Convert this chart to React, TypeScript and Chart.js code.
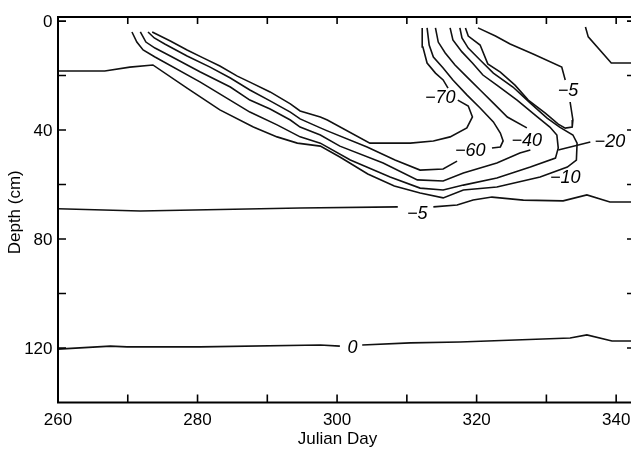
import React, { useEffect, useRef } from 'react';
import { Chart, registerables } from 'chart.js';

Chart.register(...registerables);

type Pt = [number, number];

const xTickLabels = [260, 280, 300, 320, 340];
const yTickLabels = [0, 40, 80, 120];
const xTitle = 'Julian Day';
const yTitle = 'Depth (cm)';

// contour -70 (two pieces, split at its label)
const c70a: Pt[] = [[273.5, 4.0], [276.1, 7.3], [278.5, 10.6], [280.8, 13.5], [283.2, 16.5], [285.7, 20.2], [287.5, 22.4], [290.4, 26.0], [293.3, 30.4], [294.7, 33.0], [297.6, 35.2], [298.6, 36.3], [304.7, 44.8], [310.5, 44.8], [313.8, 44.0], [316.2, 42.5], [318.6, 39.2], [319.4, 35.2], [318.8, 31.2], [317.3, 29.0]];
const c70b: Pt[] = [[315.9, 24.6], [315.2, 21.6], [314.1, 19.1], [312.9, 15.4], [312.3, 9.5], [312.2, 2.5]];

// contour -60
const c60a: Pt[] = [[272.9, 4.0], [273.8, 6.2], [275.3, 8.4], [278.5, 12.8], [281.8, 16.9], [284.7, 20.9], [287.5, 25.3], [290.4, 29.3], [293.3, 33.4], [294.7, 35.9], [297.6, 39.2], [298.6, 40.3], [304.3, 46.2], [308.3, 51.0], [311.9, 54.7], [315.2, 54.3], [317.2, 51.4]];
const c60b: Pt[] = [[322.2, 46.6], [323.4, 46.2], [323.8, 44.0], [323.4, 41.1], [322.4, 37.0], [320.5, 31.9], [318.6, 27.1], [316.6, 21.6], [315.2, 17.2], [313.8, 13.2], [313.2, 8.8], [312.9, 2.5]];

// contour -40
const c40a: Pt[] = [[271.8, 4.0], [272.6, 7.7], [273.9, 9.9], [276.1, 12.8], [280.4, 18.7], [284.7, 24.2], [287.5, 29.0], [290.4, 32.3], [293.3, 36.3], [294.7, 38.9], [297.6, 41.8], [300.4, 45.9], [306.6, 52.1], [311.5, 58.3], [315.2, 58.7], [318.1, 55.8], [322.9, 52.1], [326.2, 48.4], [327.7, 47.3]];
const c40b: Pt[] = [[327.2, 39.2], [324.4, 35.2], [322.4, 30.1], [320.5, 25.3], [318.6, 20.5], [316.9, 16.1], [315.5, 11.7], [314.5, 7.7], [314.1, 2.5]];

// contour -20 and its branch to the label
const c20: Pt[] = [[270.6, 4.0], [271.3, 7.7], [272.2, 10.6], [273.9, 13.2], [280.4, 22.4], [287.5, 33.4], [291.4, 38.1], [294.7, 42.5], [297.6, 44.8], [301.9, 51.0], [307.6, 57.2], [311.9, 61.3], [315.2, 62.0], [318.1, 60.2], [322.9, 57.6], [327.7, 53.6], [331.3, 50.3], [331.7, 46.6], [331.5, 41.8], [330.5, 38.9], [328.7, 35.2], [325.8, 29.0], [322.9, 23.5], [320.9, 19.8], [319.4, 15.4], [317.9, 11.3], [316.6, 6.9], [316.2, 2.5]];
const c20lead: Pt[] = [[331.7, 47.3], [336.3, 44.4]];

// contour -10
const c10: Pt[] = [[260, 18.3], [266.7, 18.3], [270.3, 16.9], [273.6, 16.1], [278.5, 24.6], [283.2, 32.6], [288.0, 38.9], [291.4, 42.5], [294.3, 44.8], [297.6, 45.9], [300.4, 49.9], [304.4, 56.1], [308.2, 60.5], [311.9, 63.1], [315.2, 64.9], [318.1, 62.0], [322.9, 60.9], [329.1, 57.2], [333.0, 53.6], [334.3, 51.0], [334.4, 44.8], [333.8, 41.8], [331.9, 38.9], [330.1, 35.6], [327.7, 30.1], [325.2, 24.2], [322.4, 19.1], [320.5, 14.3], [318.8, 9.9], [317.9, 6.2], [317.6, 2.5]];

// contour -5 (upper loop, upper right, lower)
const c5a: Pt[] = [[320.2, 2.5], [322.7, 5.5], [324.8, 8.4], [328.1, 12.1], [332.2, 16.9], [332.7, 21.6]];
const c5b: Pt[] = [[333.4, 29.7], [333.8, 36.3], [333.7, 38.9], [332.7, 39.3], [331.7, 37.8], [329.8, 33.7], [327.4, 29.0], [325.5, 23.5], [323.4, 18.7], [321.6, 15.7], [320.5, 8.8], [318.8, 5.5], [318.4, 2.5]];
const c5right: Pt[] = [[335.6, 2.2], [336.0, 5.8], [339.3, 15.4], [342.7, 15.4]];
const c5lowA: Pt[] = [[260, 68.9], [271.8, 69.7], [289.0, 68.9], [294.7, 68.6], [308.7, 68.2]];
const c5lowB: Pt[] = [[313.8, 68.2], [317.2, 67.5], [319.5, 65.7], [322.2, 64.6], [326.7, 65.7], [332.4, 66.0], [335.8, 63.8], [339.1, 66.4], [342.7, 66.4]];

// contour 0
const c0a: Pt[] = [[260, 120.4], [267.5, 119.3], [269.9, 119.6], [280.4, 119.6], [297.6, 118.9], [300.4, 119.3]];
const c0b: Pt[] = [[303.6, 118.9], [310.5, 118.1], [317.6, 117.8], [329.5, 116.7], [333.4, 116.3], [335.8, 115.2], [339.4, 117.4], [342.7, 117.4]];

const segments: Pt[][] = [c70a, c70b, c60a, c60b, c40a, c40b, c20, c20lead, c10, c5a, c5b, c5right, c5lowA, c5lowB, c0a, c0b];

const contourLabels = ['\u221270', '\u221260', '\u221240', '\u221220', '\u221210', '\u22125', '\u22125', '0'];
const labelDays = [314.8, 319.1, 327.2, 339.1, 332.7, 333.1, 311.5, 302.2];
const labelDepths = [27.5, 47.0, 43.3, 44.0, 57.2, 25.0, 70.1, 119.3];

const FONT = '"Liberation Sans", Arial, Helvetica, sans-serif';

export default function App() {
  const ref = useRef<HTMLCanvasElement>(null);

  useEffect(() => {
    document.body.style.margin = '0';
    const canvas = ref.current;
    if (!canvas) return;

    const decor = {
      id: 'decor',
      afterDatasetsDraw(chart: any) {
        const { ctx, chartArea: a, scales } = chart;
        const x = scales.x;
        const y = scales.y;
        ctx.save();
        ctx.strokeStyle = '#000';
        ctx.lineWidth = 1.6;
        ctx.beginPath();
        for (const t of x.ticks) {
          const px = x.getPixelForValue(t.value);
          if (px < a.left + 2 || px > a.right - 2) continue;
          ctx.moveTo(px, a.bottom);
          ctx.lineTo(px, a.bottom - 8);
          ctx.moveTo(px, a.top);
          ctx.lineTo(px, a.top + 7);
        }
        for (const t of y.ticks) {
          const py = y.getPixelForValue(t.value);
          if (py < a.top + 2 || py > a.bottom - 2) continue;
          ctx.moveTo(a.left, py);
          ctx.lineTo(a.left + 8, py);
          ctx.moveTo(a.right, py);
          ctx.lineTo(a.right - 8, py);
        }
        ctx.stroke();
        ctx.lineWidth = 2;
        ctx.strokeRect(a.left, a.top, a.right - a.left, a.bottom - a.top);

        ctx.fillStyle = '#000';
        ctx.font = `17px ${FONT}`;
        ctx.textAlign = 'center';
        ctx.textBaseline = 'alphabetic';
        for (const v of xTickLabels) ctx.fillText(String(v), x.getPixelForValue(v), a.bottom + 22.7);
        ctx.textAlign = 'right';
        for (const v of yTickLabels) ctx.fillText(String(v), a.left - 5.5, y.getPixelForValue(v) + 6);
        ctx.textAlign = 'center';
        ctx.fillText(xTitle, (a.left + a.right) / 2 - 9, a.bottom + 41.5);
        ctx.save();
        ctx.translate(15, (a.top + a.bottom) / 2 + 2.5);
        ctx.rotate(-Math.PI / 2);
        ctx.textBaseline = 'middle';
        ctx.fillText(yTitle, 0, 0);
        ctx.restore();

        ctx.font = `italic 18px ${FONT}`;
        ctx.textAlign = 'center';
        ctx.textBaseline = 'alphabetic';
        contourLabels.forEach((txt, i) => {
          ctx.fillText(txt, x.getPixelForValue(labelDays[i]), y.getPixelForValue(labelDepths[i]) + 6.5);
        });
        ctx.restore();
      },
    };

    const chart = new Chart(canvas, {
      type: 'line',
      data: {
        datasets: segments.map((seg) => ({
          data: seg.map(([d, z]) => ({ x: d, y: z })),
          borderColor: '#111',
          borderWidth: 1.6,
          pointRadius: 0,
          fill: false,
          tension: 0,
        })),
      },
      options: {
        animation: false,
        responsive: false,
        devicePixelRatio: 1,
        events: [],
        layout: { padding: { left: 0, top: 17, right: 10, bottom: 0 } },
        plugins: { legend: { display: false }, tooltip: { enabled: false } },
        scales: {
          x: {
            type: 'linear',
            min: 260,
            max: 342.7,
            ticks: { display: false, stepSize: 10, includeBounds: false },
            grid: { display: false, drawTicks: false },
            border: { display: false },
            afterFit: (s: any) => { s.height = 51.5; },
          },
          y: {
            type: 'linear',
            reverse: true,
            min: -1.5,
            max: 140,
            ticks: { display: false, stepSize: 20, includeBounds: false },
            grid: { display: false, drawTicks: false },
            border: { display: false },
            afterFit: (s: any) => { s.width = 58; },
          },
        },
      } as any,
      plugins: [decor],
    });
    return () => chart.destroy();
  }, []);

  return (
    <div style={{ width: 631, height: 454, overflow: 'hidden', position: 'relative', background: '#fff' }}>
      <canvas ref={ref} width={645} height={454} style={{ display: 'block' }} />
    </div>
  );
}
